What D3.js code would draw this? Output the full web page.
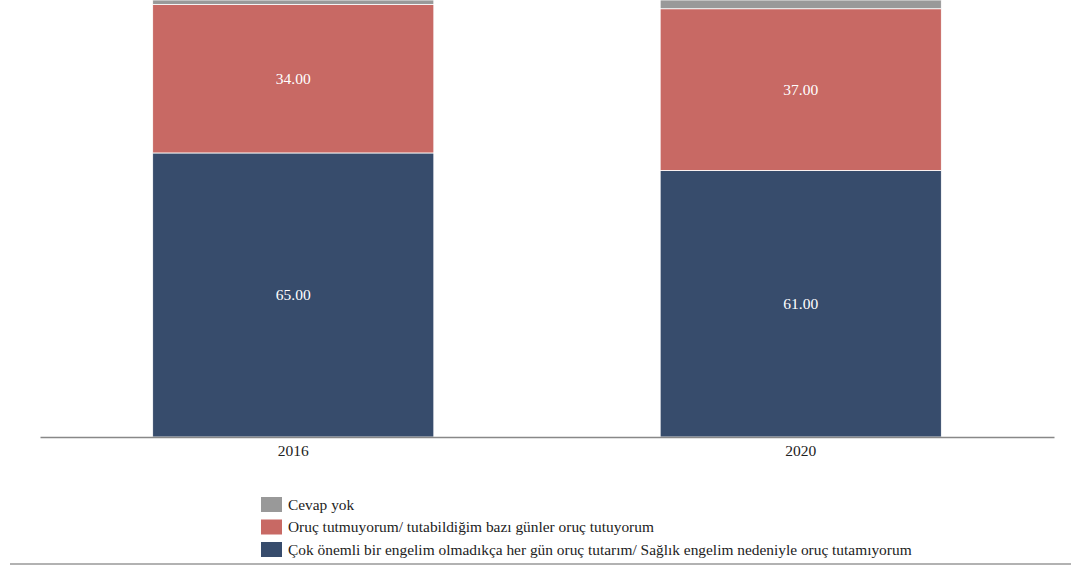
<!DOCTYPE html>
<html>
<head>
<meta charset="utf-8">
<script src="https://cdn.jsdelivr.net/npm/d3@7"></script>
<style>
  body { margin: 0; background: #fff; }
  svg text { font-family: "Liberation Serif", "Times New Roman", "DejaVu Serif", serif !important; }
</style>
</head>
<body>
<div id="plot"></div>
<script>
// chart data
const years = ["2016", "2020"];
const seriesNames = [
    "Çok önemli bir engelim olmadıkça her gün oruç tutarım/ Sağlık engelim nedeniyle oruç tutamıyorum",
    "Oruç tutmuyorum/ tutabildiğim bazı günler oruç tutuyorum",
    "Cevap yok"
];
const tutarim = [65, 61];
const tutmuyorum = [34, 37];
const cevapYok = [1, 2];
const colors = ["#374c6c", "#c86964", "#999999"];

const svgWidth = 1071, svgHeight = 566;

const svg = d3.select("#plot")
    .append("svg")
    .attr("width", svgWidth)
    .attr("height", svgHeight);

const rows = years.map(function(y, i) {
    return { year: y, s0: tutarim[i], s1: tutmuyorum[i], s2: cevapYok[i] };
});
const stack = d3.stack().keys(["s0", "s1", "s2"]);
const layers = stack(rows);

const x = d3.scaleBand()
    .domain(years)
    .range([40, 1054])
    .paddingInner(0.446)
    .paddingOuter(0.222);

const y = d3.scaleLinear()
    .domain([0, 100])
    .range([437, 0]);

// bars
const g = svg.selectAll(".layer")
    .data(layers)
    .enter()
    .append("g")
    .attr("fill", function(d, i) { return colors[i]; });

g.selectAll("rect")
    .data(function(d) { return d; })
    .enter()
    .append("rect")
    .attr("x", function(d) { return x(d.data.year); })
    .attr("y", function(d) { return y(d[1]); })
    .attr("width", x.bandwidth())
    .attr("height", function(d) { return y(d[0]) - y(d[1]); })
    .attr("stroke", "#fff")
    .attr("stroke-width", 0.8);

// value labels (not for Cevap yok)
layers.slice(0, 2).forEach(function(layer) {
    svg.selectAll(null)
        .data(layer)
        .enter()
        .append("text")
        .attr("x", function(d) { return x(d.data.year) + x.bandwidth() / 2; })
        .attr("y", function(d) { return (y(d[0]) + y(d[1])) / 2; })
        .attr("dy", "0.35em")
        .attr("text-anchor", "middle")
        .attr("fill", "#fff")
        .style("font-size", "15.5px")
        .text(function(d) { return (d[1] - d[0]).toFixed(2); });
});

// x axis
const axis = svg.append("g")
    .attr("transform", "translate(0,437)")
    .call(d3.axisBottom(x).tickSize(0).tickPadding(8));
axis.select(".domain").attr("stroke", "#888").attr("stroke-width", 1.5);
axis.selectAll("text")
    .style("font-size", "15.5px")
    .attr("fill", "#222");

// legend
const legendOrder = [2, 1, 0];
const legend = svg.selectAll(".legend")
    .data(legendOrder)
    .enter()
    .append("g")
    .attr("transform", function(d, i) { return "translate(261," + (497 + i * 22.5) + ")"; });

legend.append("rect")
    .attr("width", 21)
    .attr("height", 15)
    .attr("fill", function(d) { return colors[d]; });

legend.append("text")
    .attr("x", 27)
    .attr("y", 7.5)
    .attr("dy", "0.35em")
    .attr("fill", "#222")
    .style("font-size", "15.4px")
    .text(function(d) { return seriesNames[d]; });

// bottom rule
svg.append("line")
    .attr("x1", 10)
    .attr("x2", 1071)
    .attr("y1", 564)
    .attr("y2", 564)
    .attr("stroke", "#999")
    .attr("stroke-width", 1.5);
</script>
</body>
</html>
